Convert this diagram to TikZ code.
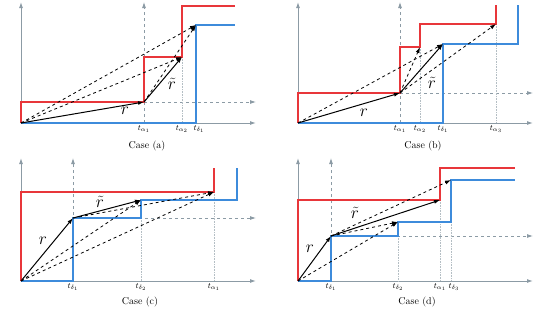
\documentclass[tikz,border=0pt]{standalone}
\usepackage{amsmath,amssymb}
\usetikzlibrary{arrows.meta}
\definecolor{Red}{HTML}{E8363A}
\definecolor{Blue}{HTML}{3D8BDB}
\definecolor{Axis}{HTML}{8C9BA5}
\definecolor{Drop}{HTML}{B4BEC4}

\begin{document}
\begin{tikzpicture}[x=1pt,y=-1pt,
    axis/.style={Axis,line width=1pt,-{Latex[length=6pt,width=4pt]}},
    guide/.style={Axis,dashed,line width=0.8pt,-{Latex[length=6pt,width=4pt]}},
    drop/.style={Drop,densely dotted,line width=0.6pt},
    arrcurve/.style={Red,line width=1.4pt},
    srvcurve/.style={Blue,line width=1.4pt},
    vec/.style={black,line width=1pt,-{Latex[length=6pt,width=4pt]}},
    dvec/.style={black,dashed,line width=0.8pt,-{Latex[length=6pt,width=4pt]}},
    tlab/.style={font=\footnotesize,anchor=north,inner sep=1pt},
    rlab/.style={font=\LARGE},
    caselab/.style={font=\normalsize}]
  \useasboundingbox (0,0) rectangle (554,311);

  % Case (a)
  \coordinate (Oa) at (21,123);
  \coordinate (Pa) at (144,102);
  \coordinate (Qa) at (182,57);
  \coordinate (Ua) at (196,25);
  \coordinate (Ya) at (21,2);
  \coordinate (Xa) at (256,123);
  \draw[axis] (Oa) -- (Ya);
  \draw[axis] (Oa) -- (Xa);
  \draw[guide] (144,123) -- (144,2);
  \draw[guide] (Pa) -- (256,102);
  \draw[drop] (Qa) -- (182,123);
  \draw[arrcurve] (Oa) -- (21,102) -- (Pa) -- (144,57) -- (Qa) -- (182,6) -- (235,6);
  \draw[srvcurve] (Oa) -- (196,123) -- (Ua) -- (235,25);
  \draw[dvec] (Oa) -- (Qa);
  \draw[dvec] (Oa) -- (Ua);
  \draw[dvec] (Pa) -- (Ua);
  \draw[vec] (Oa) -- (Pa);
  \draw[vec] (Pa) -- (Qa);
  \node[rlab] (ra) at (125,111) {$r$};
  \node[rlab] (rta) at (172,84) {$\tilde{r}$};
  \node[tlab] (ta1) at (144,124) {$t_{\alpha_1}$};
  \node[tlab] (ta2) at (182,124) {$t_{\alpha_2}$};
  \node[tlab] (ta3) at (199,124) {$t_{\delta_1}$};
  \node[caselab] (casea) at (147,146) {Case (a)};

  % Case (b)
  \coordinate (Ob) at (298,123);
  \coordinate (Pb) at (400,93);
  \coordinate (A2b) at (420,47);
  \coordinate (A3b) at (496,24);
  \coordinate (B1b) at (443,44);
  \coordinate (Yb) at (298,2);
  \coordinate (Xb) at (533,123);
  \draw[axis] (Ob) -- (Yb);
  \draw[axis] (Ob) -- (Xb);
  \draw[guide] (400,123) -- (400,2);
  \draw[guide] (Pb) -- (533,93);
  \draw[drop] (A2b) -- (420,123);
  \draw[drop] (A3b) -- (496,123);
  \draw[arrcurve] (Ob) -- (298,93) -- (Pb) -- (400,47) -- (A2b) -- (420,24) -- (A3b) -- (496,5);
  \draw[srvcurve] (Ob) -- (443,123) -- (B1b) -- (518,44) -- (518,5);
  \draw[dvec] (Ob) -- (B1b);
  \draw[dvec] (Pb) -- (A2b);
  \draw[dvec] (Pb) -- (A3b);
  \draw[vec] (Ob) -- (Pb);
  \draw[vec] (Pb) -- (B1b);
  \node[rlab] (rb) at (364,113) {$r$};
  \node[rlab] (rtb) at (432,83) {$\tilde{r}$};
  \node[tlab] (tb1) at (400,124) {$t_{\alpha_1}$};
  \node[tlab] (tb2) at (420,124) {$t_{\alpha_2}$};
  \node[tlab] (tb3) at (443,124) {$t_{\delta_1}$};
  \node[tlab] (tb4) at (496,124) {$t_{\alpha_3}$};
  \node[caselab] (caseb) at (423,146) {Case (b)};

  % Case (c)
  \coordinate (Oc) at (21,281);
  \coordinate (Pc) at (73,218);
  \coordinate (Qc) at (141,200);
  \coordinate (Rc) at (214,192);
  \coordinate (Yc) at (21,158);
  \coordinate (Xc) at (256,281);
  \draw[axis] (Oc) -- (Yc);
  \draw[axis] (Oc) -- (Xc);
  \draw[guide] (73,281) -- (73,158);
  \draw[guide] (Pc) -- (256,218);
  \draw[drop] (141,218) -- (141,281);
  \draw[drop] (Rc) -- (214,281);
  \draw[arrcurve] (Oc) -- (21,192) -- (Rc) -- (214,168);
  \draw[srvcurve] (Oc) -- (73,281) -- (Pc) -- (141,218) -- (Qc) -- (237,200) -- (237,168);
  \draw[dvec] (Oc) -- (Qc);
  \draw[dvec] (Oc) -- (Rc);
  \draw[dvec] (Pc) -- (Rc);
  \draw[vec] (Oc) -- (Pc);
  \draw[vec] (Pc) -- (Qc);
  \node[rlab] (rc) at (43,241) {$r$};
  \node[rlab] (rtc) at (100,202) {$\tilde{r}$};
  \node[tlab] (tc1) at (73,282) {$t_{\delta_1}$};
  \node[tlab] (tc2) at (141,282) {$t_{\delta_2}$};
  \node[tlab] (tc3) at (214,282) {$t_{\alpha_1}$};
  \node[caselab] (casec) at (140,302) {Case (c)};

  % Case (d)
  \coordinate (Od) at (298,281);
  \coordinate (Pd) at (331,236);
  \coordinate (B2d) at (398,222);
  \coordinate (Qd) at (440,200);
  \coordinate (B3d) at (451,180);
  \coordinate (Yd) at (298,158);
  \coordinate (Xd) at (533,281);
  \draw[axis] (Od) -- (Yd);
  \draw[axis] (Od) -- (Xd);
  \draw[guide] (331,281) -- (331,158);
  \draw[guide] (Pd) -- (533,236);
  \draw[drop] (398,236) -- (398,281);
  \draw[drop] (Qd) -- (440,281);
  \draw[drop] (451,222) -- (451,281);
  \draw[arrcurve] (Od) -- (298,200) -- (Qd) -- (440,168) -- (515,168);
  \draw[srvcurve] (Od) -- (331,281) -- (Pd) -- (398,236) -- (B2d) -- (451,222) -- (B3d) -- (515,180);
  \draw[dvec] (Od) -- (B2d);
  \draw[dvec] (Pd) -- (B2d);
  \draw[dvec] (Pd) -- (B3d);
  \draw[vec] (Od) -- (Pd);
  \draw[vec] (Pd) -- (Qd);
  \node[rlab] (rd) at (310,249) {$r$};
  \node[rlab] (rtd) at (355,213) {$\tilde{r}$};
  \node[tlab] (td1) at (331,282) {$t_{\delta_1}$};
  \node[tlab] (td2) at (398,282) {$t_{\delta_2}$};
  \node[tlab] (td3) at (440,282) {$t_{\alpha_1}$};
  \node[tlab] (td4) at (454,282) {$t_{\delta_3}$};
  \node[caselab] (cased) at (417,302) {Case (d)};
\end{tikzpicture}
\end{document}
